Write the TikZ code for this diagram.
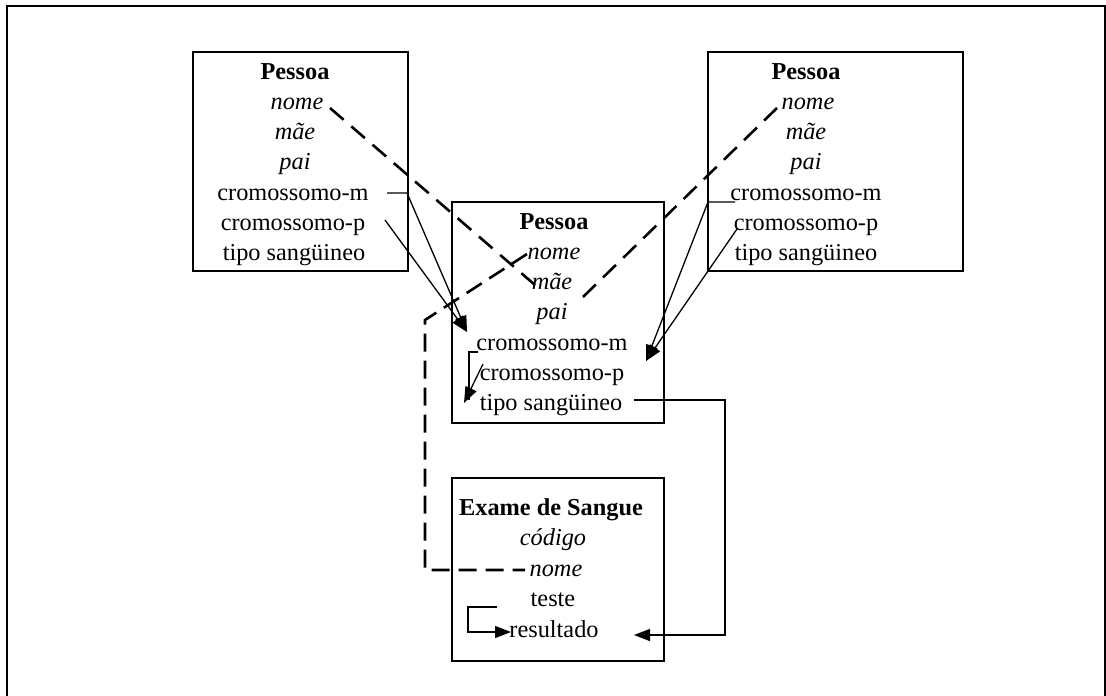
\documentclass[tikz,border=0pt]{standalone}
\usepackage{fontspec}
\setmainfont{Liberation Serif}
\usetikzlibrary{arrows.meta}
\begin{document}
\begin{tikzpicture}[x=1pt,y=-1pt,
  txt/.style={anchor=base,inner sep=0pt,font=\fontsize{24.3}{29}\selectfont},
  ttl/.style={txt,font=\fontsize{24.3}{29}\selectfont\bfseries},
  att/.style={txt,font=\fontsize{24.3}{29}\selectfont\itshape},
  cls/.style={draw,line width=1.6pt,inner sep=0pt},
  link/.style={line width=1.3pt},
  tip/.style={link,-{Triangle[length=16pt,width=12pt]}},
  ref/.style={line width=2.6pt,dash pattern=on 18pt off 9pt},
  refx/.style={line width=2.6pt,dash pattern=on 18pt off 10.1pt}]
\useasboundingbox (0,0) rectangle (1106,696);
% frame
\draw[line width=1.8pt] (7,696) -- (7,6) -- (1105,6) -- (1105,696);

% class boxes
\node[cls,minimum width=215pt,minimum height=219pt] (boxL) at (300.5,161.5) {};
\node[cls,minimum width=212pt,minimum height=221pt] (boxM) at (558,312.5) {};
\node[cls,minimum width=255pt,minimum height=219pt] (boxR) at (835.5,161.5) {};
\node[cls,minimum width=212pt,minimum height=183pt] (boxE) at (558,569.5) {};

% mother
\node[ttl] (Lt)   at (295,79)    {Pessoa};
\node[att] (Ln)   at (297,109)   {nome};
\node[att] (Lm)   at (295,139.5) {mãe};
\node[att] (Lp)   at (295,169.5) {pai};
\node[txt] (Lcm)  at (293,200)   {cromossomo-m};
\node[txt] (Lcp)  at (293,230)   {cromossomo-p};
\node[txt] (Lts)  at (294,260)   {tipo sangüineo};

% child
\node[ttl] (Mt)   at (554,229)   {Pessoa};
\node[att] (Mn)   at (554,259)   {nome};
\node[att] (Mm)   at (552,289.5) {mãe};
\node[att] (Mp)   at (552,319.5) {pai};
\node[txt] (Mcm)  at (552,350)   {cromossomo-m};
\node[txt] (Mcp)  at (552,380)   {cromossomo-p};
\node[txt] (Mts)  at (551,410)   {tipo sangüineo};

% father
\node[ttl] (Rt)   at (806,79)    {Pessoa};
\node[att] (Rn)   at (808,109)   {nome};
\node[att] (Rm)   at (806,139.5) {mãe};
\node[att] (Rp)   at (806,169.5) {pai};
\node[txt] (Rcm)  at (806,200)   {cromossomo-m};
\node[txt] (Rcp)  at (806,230)   {cromossomo-p};
\node[txt] (Rts)  at (806,260)   {tipo sangüineo};

% blood test
\node[ttl] (Et)   at (551,515)   {Exame de Sangue};
\node[att] (Ec)   at (553,545.5) {código};
\node[att] (En)   at (556,576)   {nome};
\node[txt] (Ete)  at (553,606.5) {teste};
\node[txt] (Er)   at (554,637)   {resultado};

% end points of the connectors
\coordinate (LnOut) at (330,108);
\coordinate (MmIn)  at (535,285);
\coordinate (RnOut) at (777,108);
\coordinate (MpIn)  at (583,297);
\coordinate (MnOut) at (527,254);
\coordinate (k1)    at (425,320);
\coordinate (k2)    at (425,570);
\coordinate (EnIn)  at (525,570);

\coordinate (LcmOut) at (387,193);
\coordinate (LcmK)   at (407,193);
\coordinate (LcpOut) at (385,220);
\coordinate (McmIn)  at (467,332);

\coordinate (RcmOut) at (735,202);
\coordinate (RcmK)   at (708,202);
\coordinate (RcpOut) at (737,229);
\coordinate (McmInR) at (646,361);

\coordinate (McmOut) at (478,352);
\coordinate (McmK)   at (469,352);
\coordinate (McmK2)  at (469,400);
\coordinate (McpOut) at (483,364);
\coordinate (MtsIn)  at (464,403);

\coordinate (MtsOut) at (634,400);
\coordinate (t1)     at (725,400);
\coordinate (t2)     at (725,635);
\coordinate (ErIn)   at (634,635);

\coordinate (EteOut) at (497,607);
\coordinate (e1)     at (468,607);
\coordinate (e2)     at (468,632);
\coordinate (ErInL)  at (511,632);

% name references (dashed)
\draw[refx] (LnOut) -- (MmIn);
\draw[refx] (RnOut) -- (MpIn);
\draw[ref] (MnOut) -- (k1) -- (k2) -- (EnIn);

% inheritance of chromosomes
\draw[tip] (LcmOut) -- (LcmK) -- (McmIn);
\draw[tip] (LcpOut) -- (McmIn);
\draw[tip] (RcmOut) -- (RcmK) -- (McmInR);
\draw[tip] (RcpOut) -- (McmInR);
\draw[link] (McmOut) -- (McmK) -- (McmK2);
\draw[tip] (McpOut) -- (MtsIn);

% blood type to test result
\draw[tip] (MtsOut) -- (t1) -- (t2) -- (ErIn);
\draw[tip] (EteOut) -- (e1) -- (e2) -- (ErInL);
\end{tikzpicture}
\end{document}
